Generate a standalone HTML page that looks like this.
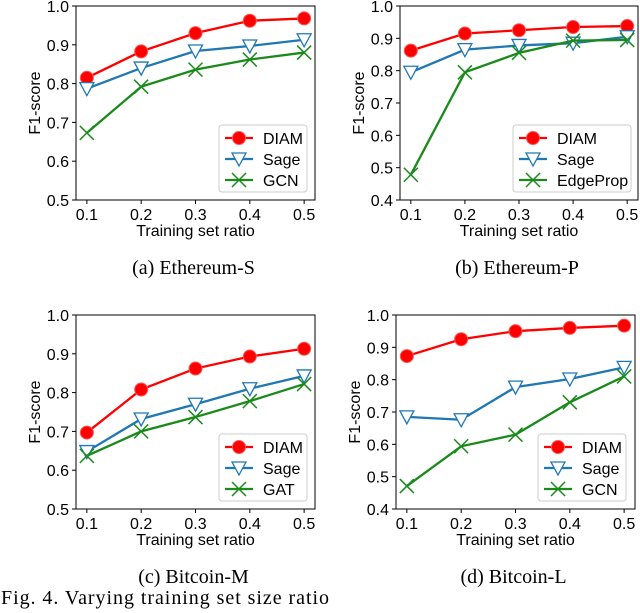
<!DOCTYPE html>
<html><head><meta charset="utf-8">
<style>
body{margin:0;background:#fff;width:640px;height:613px;overflow:hidden}
svg{display:block}
.t{font-family:"Liberation Sans",sans-serif;font-size:16px;fill:#000}
.c{font-family:"Liberation Serif",serif;font-size:20px;fill:#000}
</style></head><body>
<svg id="s" width="640" height="613"></svg>
<script>
const xCats=[0.1,0.2,0.3,0.4,0.5];
const esDiam=[0.815,0.883,0.930,0.962,0.968];
const esSage=[0.787,0.840,0.884,0.897,0.913];
const esGcn=[0.673,0.792,0.836,0.862,0.880];
const epDiam=[0.862,0.915,0.925,0.935,0.938];
const epSage=[0.795,0.865,0.878,0.885,0.905];
const epEdge=[0.478,0.795,0.855,0.893,0.895];
const bmDiam=[0.697,0.808,0.862,0.893,0.913];
const bmSage=[0.648,0.732,0.770,0.810,0.843];
const bmGat=[0.637,0.700,0.737,0.778,0.822];
const blDiam=[0.873,0.925,0.950,0.960,0.967];
const blSage=[0.685,0.676,0.777,0.802,0.838];
const blGcn=[0.471,0.594,0.630,0.730,0.810];
const yTicksA=[0.5,0.6,0.7,0.8,0.9,1.0];
const yTicksB=[0.4,0.5,0.6,0.7,0.8,0.9,1.0];
const svg=document.getElementById('s');
const NS='http://www.w3.org/2000/svg';
function mk(t,a,p){const e=document.createElementNS(NS,t);for(const k in a)e.setAttribute(k,a[k]);(p||svg).appendChild(e);return e;}
function marker(g,kind,x,y,col){
  if(kind==='o'){mk('circle',{cx:x,cy:y,r:6.5,fill:col,stroke:'#f55',"stroke-width":1},g);}
  else if(kind==='v'){mk('polygon',{points:`${x-7},${y-6} ${x+7},${y-6} ${x},${y+7}`,fill:'#fff',stroke:col,"stroke-width":1.3},g);}
  else {mk('path',{d:`M${x-7},${y-7}L${x+7},${y+7}M${x-7},${y+7}L${x+7},${y-7}`,stroke:col,"stroke-width":1.5},g);}
}
function panel(id,L,T,W,H,ymin,ymax,yt,series,names,legX,legW,cap){
  const g=mk('g',{});
  
  
  const xs=v=>L+(v-0.08)/(0.44)*W;
  const ys=v=>T+H-(v-ymin)/(ymax-ymin)*H;
  const cols=['#f00','#1f77b4','#1a8a1a'];
  const kinds=['o','v','x'];
  series.forEach((s,i)=>{
    const sg=mk('g',{},g);
    
    
    mk('polyline',{points:s.map((v,j)=>xs(xCats[j])+','+ys(v)).join(' '),fill:'none',stroke:cols[i],"stroke-width":2.3},sg);
    s.forEach((v,j)=>marker(sg,kinds[i],xs(xCats[j]),ys(v),cols[i]));
  });
  mk('rect',{x:L,y:T,width:W,height:H,fill:'none',stroke:'#000',"stroke-width":1},g);
  xCats.forEach(v=>{const x=xs(v);mk('line',{x1:x,x2:x,y1:T+H,y2:T+H+4,stroke:'#000'},g);
    const t=mk('text',{x:x,y:T+H+20,"text-anchor":'middle',class:'t'},g);t.textContent=v.toFixed(1);});
  yt.forEach(v=>{const y=ys(v);mk('line',{x1:L-4,x2:L,y1:y,y2:y,stroke:'#000'},g);
    const t=mk('text',{x:L-7,y:y+6,"text-anchor":'end',class:'t'},g);t.textContent=v.toFixed(1);});
  const xl=mk('text',{x:L+W/2,y:T+H+36,"text-anchor":'middle',class:'t'},g);xl.textContent='Training set ratio';
  
  const yl=mk('text',{x:0,y:0,"text-anchor":'middle',class:'t',transform:`translate(${L-36},${T+H/2}) rotate(-90)`},g);yl.textContent='F1-score';
  
  const lg=mk('g',{},g);
  
  
  const ly=T+119;
  mk('rect',{x:legX,y:ly,width:legW,height:67,rx:3,fill:'#fff',stroke:'#ccc'},lg);
  names.forEach((n,i)=>{const yy=ly+13+i*21;
    mk('line',{x1:legX+6,x2:legX+34,y1:yy,y2:yy,stroke:cols[i],"stroke-width":2.3},lg);
    marker(lg,kinds[i],legX+20,yy,cols[i]);
    const t=mk('text',{x:legX+44,y:yy+6,class:'t'},lg);t.textContent=n;});
  const c=mk('text',{x:L+W/2-2,y:T+H+74,"text-anchor":'middle',class:'c'},g);c.textContent=cap;
  
}
panel('panel-ethereum-s',76,6,239,194,0.5,1.0,yTicksA,[esDiam,esSage,esGcn],['DIAM','Sage','GCN'],219,88,'(a)  Ethereum-S');
panel('panel-ethereum-p',400,6,238,194,0.4,1.0,yTicksB,[epDiam,epSage,epEdge],['DIAM','Sage','EdgeProp'],513,118,'(b)  Ethereum-P');
panel('panel-bitcoin-m',76,315,239,194,0.5,1.0,yTicksA,[bmDiam,bmSage,bmGat],['DIAM','Sage','GAT'],219,88,'(c)  Bitcoin-M');
panel('panel-bitcoin-l',396,315,239,194,0.4,1.0,yTicksB,[blDiam,blSage,blGcn],['DIAM','Sage','GCN'],538,88,'(d)  Bitcoin-L');
const f=mk('text',{x:1,y:604,class:'c',textLength:328,lengthAdjust:'spacing'});f.textContent='Fig. 4.   Varying training set size ratio';


</script>
</body></html>
